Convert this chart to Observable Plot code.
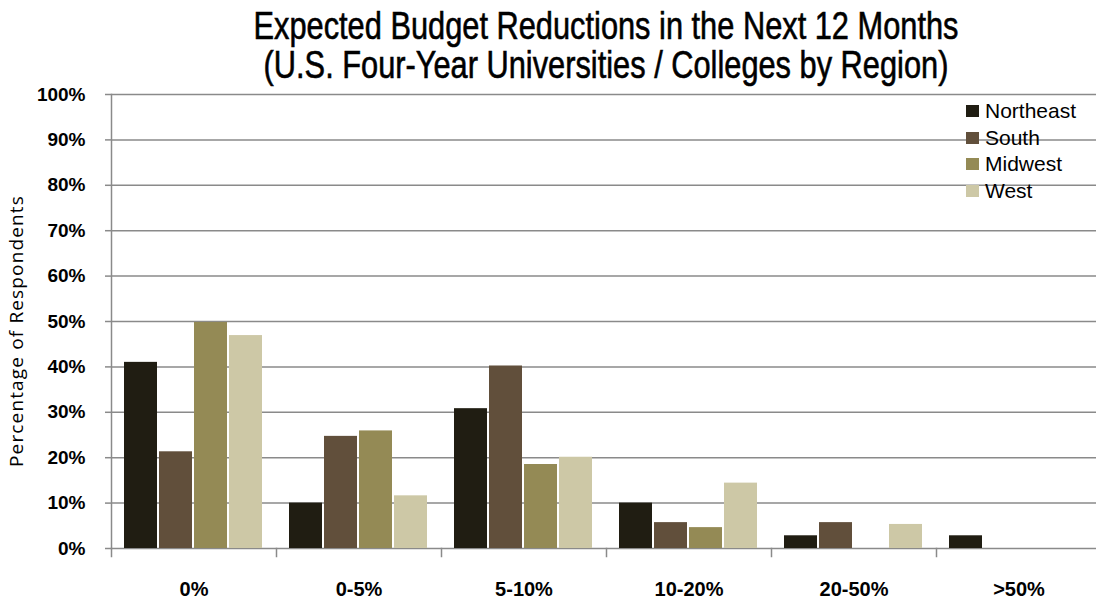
<!DOCTYPE html>
<html>
<head>
<meta charset="utf-8">
<script src="https://cdn.jsdelivr.net/npm/d3@7"></script>
<script src="https://cdn.jsdelivr.net/npm/@observablehq/plot@0.6"></script>
<style>
  html, body { margin: 0; padding: 0; background: #fff; overflow: hidden; width: 1096px; height: 601px; }
  body { position: relative; font-family: "Liberation Sans", Arial, sans-serif; }
  #title { position: absolute; left: 111px; top: 7px; width: 990px; text-align: center; font-size: 38px; line-height: 39px; color: #000; -webkit-text-stroke: 0.6px #000; transform: scaleX(0.81); transform-origin: 495px 0; white-space: nowrap; }
  #chart { position: absolute; left: 0; top: 88px; }
  #chart svg { max-width: none !important; }
  #ylabel { position: absolute; left: 16px; top: 331px; transform: translate(-50%, -50%) rotate(-90deg); font-family: "Open Sans", "DejaVu Sans", sans-serif; font-size: 19px; white-space: nowrap; color: #000; }
  #legend { position: absolute; left: 966px; top: 98px; font-size: 21px; color: #000; }
  #legend .row { height: 26.5px; display: flex; align-items: center; }
  #legend .sw { width: 13px; height: 12px; margin-right: 6px; }
</style>
</head>
<body>
<div id="title">Expected Budget Reductions in the Next 12 Months<br>(U.S. Four-Year Universities / Colleges by Region)</div>
<div id="chart"></div>
<div id="ylabel">Percentage of Respondents</div>
<div id="legend"></div>
<script>
const categories = ["0%", "0-5%", "5-10%", "10-20%", "20-50%", ">50%"];
const regions = ["Northeast", "South", "Midwest", "West"];
const northeast = [41, 10, 30.8, 10, 2.8, 2.8];
const south = [21.3, 24.7, 40.2, 5.7, 5.7, 0];
const midwest = [49.8, 25.9, 18.5, 4.6, 0, 0];
const west = [46.9, 11.6, 20.1, 14.4, 5.3, 0];
const colors = ["#201d12", "#614f3b", "#948a55", "#cdc8a6"];
const yTicks = [0, 10, 20, 30, 40, 50, 60, 70, 80, 90, 100];

const series = [northeast, south, midwest, west];
const data = [];
categories.forEach((c, i) => {
  regions.forEach((r, j) => data.push({category: c, region: r, value: series[j][i]}));
});

const FONT = '"Liberation Sans", Arial, sans-serif';
const GRID = "#8a8a8a";

const chart = Plot.plot({
  width: 1106,
  height: 513,
  marginLeft: 111,
  marginRight: 5,
  marginTop: 6,
  marginBottom: 53,
  style: {fontFamily: FONT, background: "transparent", overflow: "visible", maxWidth: "none"},
  fx: {domain: categories, padding: 0, label: null},
  x: {domain: regions, paddingInner: 0.05, paddingOuter: 0.34, axis: null},
  y: {domain: [0, 100]},
  color: {domain: regions, range: colors},
  marks: [
    Plot.gridY(yTicks, {stroke: GRID, strokeOpacity: 1, strokeWidth: 1.5}),
    Plot.frame({anchor: "left", facetAnchor: "left", stroke: GRID, strokeWidth: 1.5}),
    Plot.frame({anchor: "left", insetTop: 454, insetBottom: -8, stroke: GRID, strokeWidth: 1.5}),
    Plot.barY(data, {fx: "category", x: "region", y: "value", fill: "region"}),
    Plot.axisY(yTicks, {
      tickFormat: d => d + "%", tickSize: 6, tickPadding: 20, stroke: GRID, strokeWidth: 1.5,
      fontSize: 19, fontWeight: "bold", fill: "#000", label: null
    }),
    Plot.axisFx({anchor: "bottom", tickSize: 0, tickPadding: 33, fontSize: 20, fontWeight: "bold", fill: "#000", label: null})
  ]
});
document.getElementById("chart").appendChild(chart);

// axis title: spread to the original's length
const yl = document.getElementById("ylabel");
const w0 = yl.getBoundingClientRect().height;
const n = yl.textContent.length;
yl.style.letterSpacing = Math.max(0, (272 - w0) / n) + "px";

const legend = document.getElementById("legend");
regions.forEach((r, i) => {
  const row = document.createElement("div");
  row.className = "row";
  const sw = document.createElement("div");
  sw.className = "sw";
  sw.style.background = colors[i];
  const t = document.createElement("span");
  t.textContent = r;
  row.appendChild(sw);
  row.appendChild(t);
  legend.appendChild(row);
});
</script>
</body>
</html>
